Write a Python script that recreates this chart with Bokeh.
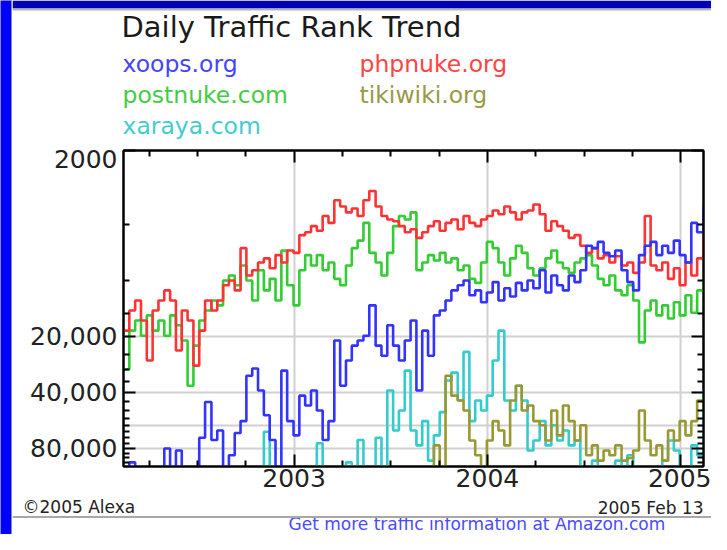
import numpy as np
import pandas as pd
from bokeh.plotting import figure
from bokeh.layouts import row, column
from bokeh.models import Range1d, FixedTicker, LinearAxis, LogAxis, Span, BoxAnnotation
from bokeh.core.properties import value
from bokeh.embed import file_html
from bokeh.resources import INLINE

# ---- data (Alexa daily traffic rank, in thousands; 150 = below the chart, rank > 100,000) ----
dates = pd.date_range("2002-02-13", "2005-02-13", periods=100)

xoops = [150, 95, 150, 150, 150, 150, 150, 80, 150, 82,
         150, 150, 150, 70, 45, 72, 64, 150, 87, 66,
         57, 32.5, 29.7, 39, 53, 72, 150, 30.5, 57, 68,
         41.6, 47, 39, 50, 72, 57, 21, 36.8, 26.9, 22.4,
         21, 19.8, 13.6, 22.4, 25.4, 17.4, 22.4, 26.9, 21, 16.4,
         39, 18.6, 25.4, 15.4, 14.5, 12.8, 11.3, 10.6, 10.0, 12.0,
         11.3, 13.1, 11.6, 10.2, 12.8, 11.0, 12.2, 10.3, 11.3, 10.0,
         11.0, 8.8, 11.6, 9.4, 10.6, 11.3, 9.4, 10.2, 8.8, 6.5,
         6.7, 6.2, 7.1, 7.4, 6.9, 8.8, 10.2, 11.3, 7.3, 6.5,
         6.2, 7.3, 6.5, 7.1, 6.1, 7.3, 8.0, 4.9, 5.5, 4.0]

phpnuke = [18.6, 14.5, 12.8, 16.4, 26.9, 14.5, 12.8, 11.3, 12.8, 23.8,
           14.5, 16.4, 28.7, 18.6, 12.8, 14.5, 12.8, 10.6, 10.0, 11.3,
           6.7, 9.4, 8.8, 8.0, 7.6, 8.6, 7.3, 8.0, 6.9, 7.1,
           5.7, 5.5, 5.1, 5.4, 4.5, 4.9, 3.7, 4.0, 4.3, 4.1,
           4.5, 3.7, 3.3, 4.0, 4.5, 4.7, 4.8, 5.1, 5.5, 5.3,
           5.9, 5.5, 5.1, 4.8, 5.4, 4.9, 4.7, 5.3, 4.5, 4.9,
           5.1, 4.7, 4.5, 4.2, 4.4, 4.0, 4.3, 4.7, 4.3, 4.2,
           3.9, 4.4, 5.4, 4.8, 5.1, 5.4, 5.9, 5.7, 6.5, 7.1,
           6.7, 7.6, 7.3, 8.0, 7.4, 8.3, 8.0, 9.1, 8.0, 4.5,
           8.3, 8.8, 8.0, 9.8, 8.6, 10.6, 8.0, 9.4, 7.6, 4.8]

postnuke = [30, 18.6, 16.4, 19.8, 15.4, 18.6, 16.4, 19.8, 15.4, 17.4,
            21.0, 36.8, 22.4, 16.4, 14.5, 12.8, 13.6, 10.0, 9.4, 10.6,
            8.3, 10.0, 12.8, 8.8, 11.3, 9.8, 12.8, 6.9, 10.6, 13.6,
            8.8, 7.3, 8.3, 7.3, 8.8, 8.0, 9.8, 10.6, 8.3, 6.7,
            6.1, 4.9, 7.1, 8.0, 9.4, 7.1, 5.1, 4.5, 4.7, 4.3,
            8.8, 8.0, 7.3, 7.8, 7.1, 8.0, 7.6, 8.8, 8.3, 9.8,
            10.3, 8.0, 6.2, 6.7, 8.0, 9.4, 7.6, 6.5, 7.1, 8.6,
            9.4, 8.6, 7.6, 6.9, 8.0, 8.6, 9.1, 8.0, 7.6, 7.3,
            8.3, 9.8, 10.6, 9.4, 11.3, 12.0, 10.6, 12.8, 21.5, 14.5,
            12.8, 15.4, 13.6, 16.0, 13.1, 15.4, 12.0, 14.9, 11.3, 9.1]

tikiwiki = [150, 150, 150, 150, 150, 150, 150, 150, 150, 150,
            150, 150, 150, 150, 150, 150, 150, 150, 150, 150,
            150, 150, 150, 150, 150, 150, 150, 150, 150, 150,
            150, 150, 150, 150, 150, 150, 150, 150, 150, 150,
            150, 150, 150, 150, 150, 150, 150, 150, 150, 150,
            150, 150, 150, 77, 150, 32.5, 41.6, 44.2, 50, 72.5,
            87, 150, 72.5, 57, 64, 77, 44.2, 36.8, 50, 47,
            57, 60, 72.5, 50, 68, 47, 57, 72.5, 60, 87,
            77, 93, 82, 87, 77, 93, 90, 82, 50, 72.5,
            87, 77, 93, 64, 72.5, 57, 68, 57, 44.2, 50]

xaraya = [150, 150, 150, 150, 150, 150, 150, 150, 150, 150,
          150, 150, 150, 150, 150, 150, 150, 150, 150, 150,
          150, 150, 150, 150, 65, 150, 150, 150, 150, 150,
          150, 150, 150, 75, 150, 150, 150, 150, 95, 150,
          72, 150, 150, 70, 100, 39, 64, 50, 30.5, 64,
          77, 57, 93, 68, 51, 34.5, 31.3, 44.2, 24.2, 57,
          44.2, 50, 41.6, 26.9, 18.6, 44.2, 50, 36.8, 44.2, 82,
          72.5, 57, 77, 60, 72.5, 64, 77, 72.5, 150, 150,
          93, 150, 150, 150, 93, 150, 87, 150, 150, 150,
          150, 150, 93, 72.5, 82, 150, 150, 77, 87, 39]

series_names = ["xaraya.com", "tikiwiki.org", "postnuke.com", "phpnuke.org", "xoops.org"]
series_values = [xaraya, tikiwiki, postnuke, phpnuke, xoops]
series_colors = ["#33cccc", "#999933", "#33cc33", "#ff3333", "#3333ff"]
key_colors = ["#44cccc", "#999944", "#44cc44", "#ff4444", "#4444ff"]

year_ticks = [2003, 2004, 2005]
year_labels = ["2003", "2004", "2005"]
quarter_ticks = [2002.25, 2002.5, 2002.75, 2003.25, 2003.5, 2003.75, 2004.25, 2004.5, 2004.75]
rank_ticks = [2, 20, 40, 80]
rank_labels = ["2000", "20,000", "40,000", "80,000"]
rank_label_pos = [2.22, 20, 40, 80]   # the top label sits just inside the frame
rank_minor = [5, 10, 15, 25, 30, 35, 45, 50, 55, 60, 65, 70, 75, 85, 90, 95]
rank_grid = [20, 40, 60, 80]

x = (dates.year + (dates.dayofyear - 1) / np.where(dates.is_leap_year, 366, 365)).to_numpy()

FONT = "DejaVu Sans"
W = 699  # width of the right-hand column (page x 12..711)
BASE = 0.38  # the text glyph sits this many em below its anchor; compensate to hit the baseline


def blank(w, h, xr, yr, bg="white"):
    f = figure(width=w, height=h, x_range=Range1d(*xr), y_range=Range1d(*yr), title=None,
               x_axis_location=None, y_axis_location=None, output_backend="svg",
               toolbar_location=None, min_border=0, background_fill_color=bg,
               border_fill_color=bg)
    f.frame_align = False
    f.grid.visible = False
    f.outline_line_color = None
    return f


def texts(f, x0, baseline, s, size, color, align="left"):
    f.text(x=[x0], y=[baseline - BASE * size], text=[s], text_font=value(FONT),
           text_font_size=value(f"{size}px"), text_color=color, text_align=align,
           text_baseline="alphabetic")


# ---- left blue strip ----
strip = blank(12, 534, (0, 12), (534, 0), bg="#0000ff")
strip.add_layout(Span(location=11.5, dimension="height", line_color="#b4b4b4", line_width=1.5))

# ---- header: top band, title and colour key (page coordinates) ----
header = blank(W, 140, (12, 711), (140, 0))
header.add_layout(BoxAnnotation(top=0, bottom=8, fill_color="#0000b8", fill_alpha=1, line_color=None))
header.add_layout(Span(location=9, dimension="width", line_color="#b4b4b4", line_width=2))
texts(header, 121, 37.5, "Daily Traffic Rank Trend", 29, "#1a1a1a")
key_x = {"xoops.org": 122, "phpnuke.org": 359, "postnuke.com": 122, "tikiwiki.org": 359, "xaraya.com": 122}
key_y = {"xoops.org": 72, "phpnuke.org": 72, "postnuke.com": 103, "tikiwiki.org": 103, "xaraya.com": 134}
for name, col in zip(series_names, key_colors):
    texts(header, key_x[name], key_y[name], name, 23.5, col)

# ---- main chart ----
p = figure(width=W, height=357, x_range=Range1d(x[0], x[-1]), y_range=Range1d(100, 2),
           y_axis_type="log", output_backend="svg", toolbar_location=None, title=None,
           min_border_left=111, min_border_right=8, min_border_top=10, min_border_bottom=31,
           background_fill_color="white", border_fill_color="white")
p.frame_align = False
p.outline_line_color = "black"
p.outline_line_width = 2

for vals, col in zip(series_values, series_colors):
    p.step(x=x, y=vals, mode="after", line_width=2.6, line_color=col)


def style(ax, ticks, minor, labels, tick_in=12, minor_in=6, show=True):
    ax.ticker = FixedTicker(ticks=ticks, minor_ticks=minor)
    ax.major_label_overrides = {t: l for t, l in zip(ticks, labels)}
    ax.major_tick_in = tick_in
    ax.major_tick_out = 0
    ax.minor_tick_in = minor_in
    ax.minor_tick_out = 0
    ax.major_tick_line_width = 2
    ax.minor_tick_line_width = 2
    ax.axis_line_width = 2
    ax.axis_line_color = "black"
    ax.major_label_text_font = FONT
    ax.major_label_text_font_size = "25px" if show else "0px"
    ax.major_label_text_color = "#222222"
    ax.major_label_standoff = 5 if show else 0


style(p.xaxis[0], year_ticks, quarter_ticks, year_labels)
p.xaxis[0].major_label_standoff = 2
style(p.yaxis[0], rank_ticks, rank_minor, ["", "", "", ""], show=False)

ylab = LogAxis()
style(ylab, rank_label_pos, [], rank_labels, tick_in=0, minor_in=0)
ylab.axis_line_color = None
ylab.major_tick_line_color = None
ylab.minor_tick_line_color = None
ylab.major_label_standoff = 6
p.add_layout(ylab, "left")

top = LinearAxis()
style(top, year_ticks, quarter_ticks, ["", "", ""], show=False)
p.add_layout(top, "above")
right = LogAxis()
style(right, rank_ticks, rank_minor, ["", "", "", ""], show=False)
p.add_layout(right, "right")

p.xgrid.ticker = FixedTicker(ticks=year_ticks)
p.ygrid.ticker = FixedTicker(ticks=rank_grid)
p.grid.grid_line_color = "#d0d0d0"
p.grid.grid_line_width = 2

# ---- footer (page y 497..534) ----
footer = blank(W, 37, (12, 711), (534, 497))
texts(footer, 22, 512.5, "\u00a92005 Alexa", 17, "#222222")
texts(footer, 703, 514, "2005 Feb 13", 17, "#222222", align="right")
footer.add_layout(Span(location=516.5, dimension="width", line_color="#a8a8a8", line_width=2))
texts(footer, 288, 530, "Get more traffic information at Amazon.com", 17, "#4a4aff")

layout = row(strip, column(header, p, footer, spacing=0), spacing=0)
open("out.html", "w").write(file_html(layout, INLINE))
